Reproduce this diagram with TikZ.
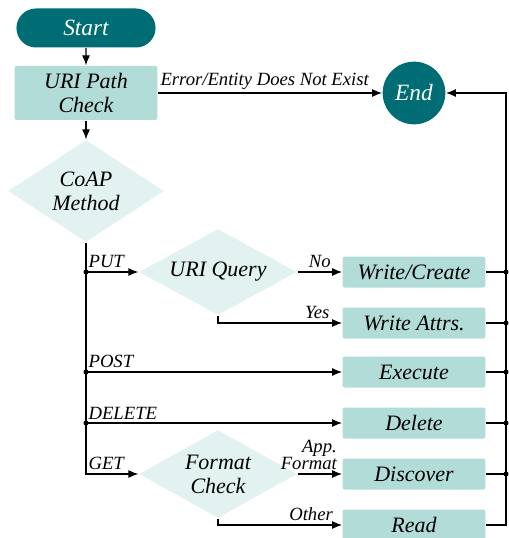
\documentclass[tikz,border=0pt]{standalone}
\usepackage{fontspec}
\setmainfont{Liberation Serif}
\usetikzlibrary{shapes.geometric, shapes.misc, arrows.meta}
\definecolor{darkteal}{RGB}{0,108,115}
\definecolor{boxteal}{RGB}{178,220,216}
\definecolor{paleteal}{RGB}{225,242,240}
\tikzstyle{term}=[rounded rectangle, fill = darkteal, text = white, minimum width = 111pt, minimum height = 29.25pt, font = \itshape\fontsize{17.5}{19}\selectfont]
\tikzstyle{stop}=[circle, fill = darkteal, text = white, minimum size = 47pt, inner sep = 0pt, font = \itshape\fontsize{17.5}{19}\selectfont]
\tikzstyle{proc}=[rectangle, rounded corners = 1.5pt, fill = boxteal, minimum width = 107pt, minimum height = 23.25pt, inner sep = 0pt, align = center, font = \itshape\fontsize{16.5}{17.5}\selectfont]
\tikzstyle{dec}=[diamond, fill = paleteal, inner sep = 0pt, aspect = 1.8, align = center, font = \itshape\fontsize{16.5}{18}\selectfont]
\tikzstyle{lbl}=[inner xsep = 1.5pt, inner ysep = 2.5pt, font = \itshape\fontsize{14}{13}\selectfont]
\tikzstyle{jn}=[circle, fill, inner sep = 0pt, minimum size = 3.8pt]
\begin{document}
\begin{tikzpicture}[x = 0.75pt, y = -0.75pt, line width = 0.9pt, >={Latex[length = 7.5pt, width = 6pt]}]
  \useasboundingbox (0,0) rectangle (508,538);
  \node[term] (start) at (86,28) {Start};
  \node[proc, minimum height = 40.5pt] (path) at (86,93) {URI Path\\Check};
  \node[dec, minimum width = 117pt, minimum height = 76.5pt] (coap) at (86,191) {CoAP\\Method};
  \node[stop] (end) at (414,93) {End};
  \node[dec, minimum width = 118.5pt, minimum height = 64.5pt] (query) at (218,272) {URI Query};
  \node[dec, minimum width = 118.5pt, minimum height = 66pt] (format) at (218,474) {Format\\Check};
  \node[proc] (write) at (414,272) {Write/Create};
  \node[proc] (attrs) at (414,323) {Write Attrs.};
  \node[proc] (exec) at (414,372) {Execute};
  \node[proc] (del) at (414,423) {Delete};
  \node[proc] (disc) at (414,474) {Discover};
  \node[proc] (read) at (414,525) {Read};
  \coordinate (jput) at (86,272);
  \coordinate (jpost) at (86,372);
  \coordinate (jdel) at (86,423);
  \coordinate (rail) at (506,93);

  \draw[->] (start) -- (path);
  \draw[->] (path) -- (coap);
  \draw[->] (path.east) -- node[lbl, pos = 0, anchor = south west] {Error/Entity Does Not Exist} (end.west);
  \draw[->] (coap.south) |- node[lbl, pos = 0.5, anchor = south west] {GET} (format.west);
  \draw[->] (jput) -- node[lbl, pos = 0, anchor = south west] {PUT} (query.west);
  \draw[->] (jpost) -- node[lbl, pos = 0, anchor = south west] {POST} (exec.west);
  \draw[->] (jdel) -- node[lbl, pos = 0, anchor = south west] {DELETE} (del.west);
  \draw[->] (query.east) -- node[lbl, above] {No} (write.west);
  \draw[->] (query.south) |- node[lbl, pos = 0.9, above] {Yes} (attrs.west);
  \draw[->] (format.east) -- node[lbl, pos = 1, anchor = south east, align = right, xshift = -2pt] {App.\\Format} (disc.west);
  \draw[->] (format.south) |- node[lbl, pos = 0.875, above] {Other} (read.west);
  \draw[->] (read.east) -| (rail) -- (end.east);
  \foreach \b in {write, attrs, exec, del, disc}{
    \draw (\b.east) -- (\b.east -| rail);
    \node[jn] at (\b.east -| rail) {};
  }
  \foreach \j in {jput, jpost, jdel}
    \node[jn] at (\j) {};
\end{tikzpicture}
\end{document}
